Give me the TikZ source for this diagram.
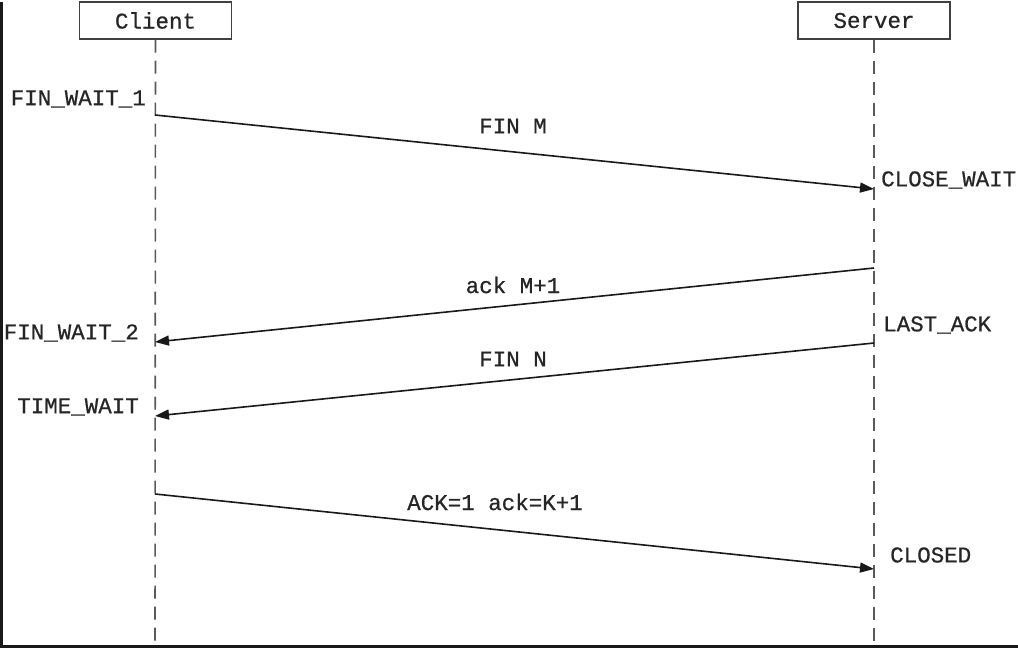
\documentclass[tikz,border=0pt]{standalone}
\usepackage{fontspec}
\setmonofont[FakeBold=0.6]{Liberation Mono}
\usetikzlibrary{arrows.meta}
\begin{document}
\begin{tikzpicture}[x=1pt,y=-1pt,
    lbl/.style={font=\ttfamily\fontsize{22.5}{26}\selectfont,text=black!85,inner sep=0pt},
    host/.style={draw=black!75,line width=1.4pt,minimum width=152pt,minimum height=37pt,
      inner sep=0pt,font=\ttfamily\fontsize{22.5}{26}\selectfont,text=black!85},
    life/.style={draw=black!65,line width=1.6pt,dash pattern=on 13pt off 8pt},
    msg/.style={draw=black!90,line width=1.6pt,-{Triangle[length=14pt,width=10pt]}}]
    % frame
    \fill[black!90] (0,0) rectangle (1018,646);
    \fill[white] (3,-2) rectangle (1018,643);
    \useasboundingbox (0,0) rectangle (1018,646);
    % hosts
    \node[host] (client) at (155.5,18.5) {Client};
    \node[host] (server) at (874,18.5) {Server};
    % lifelines
    \coordinate (cend) at (155,646);
    \coordinate (send) at (874,646);
    \draw[life] (client.south) -- (cend);
    \draw[life] (server.south) -- (send);
    % end points of the messages
    \coordinate (c1) at (155,113);
    \coordinate (s1) at (874,187);
    \coordinate (s2) at (874,266);
    \coordinate (c2) at (155,340);
    \coordinate (s3) at (874,341);
    \coordinate (c3) at (155,414);
    \coordinate (c4) at (155,492);
    \coordinate (s4) at (874,567);
    % messages
    \draw[msg] (c1) -- (s1);
    \draw[msg] (s2) -- (c2);
    \draw[msg] (s3) -- (c3);
    \draw[msg] (c4) -- (s4);
    \node[lbl] (m1) at (513,124) {FIN M};
    \node[lbl] (m2) at (513,283) {ack M+1};
    \node[lbl] (m3) at (513,357) {FIN N};
    \node[lbl] (m4) at (495,500) {ACK=1 ack=K+1};
    % client states
    \node[lbl,anchor=east] (fw1) at (146,97) {FIN\_WAIT\_1};
    \node[lbl,anchor=east] (fw2) at (139,331) {FIN\_WAIT\_2};
    \node[lbl,anchor=east] (tw) at (139,405) {TIME\_WAIT};
    % server states
    \node[lbl,anchor=west] (cw) at (881,178) {CLOSE\_WAIT};
    \node[lbl,anchor=west] (la) at (883,323) {LAST\_ACK};
    \node[lbl,anchor=west] (cl) at (890,553) {CLOSED};
\end{tikzpicture}
\end{document}
